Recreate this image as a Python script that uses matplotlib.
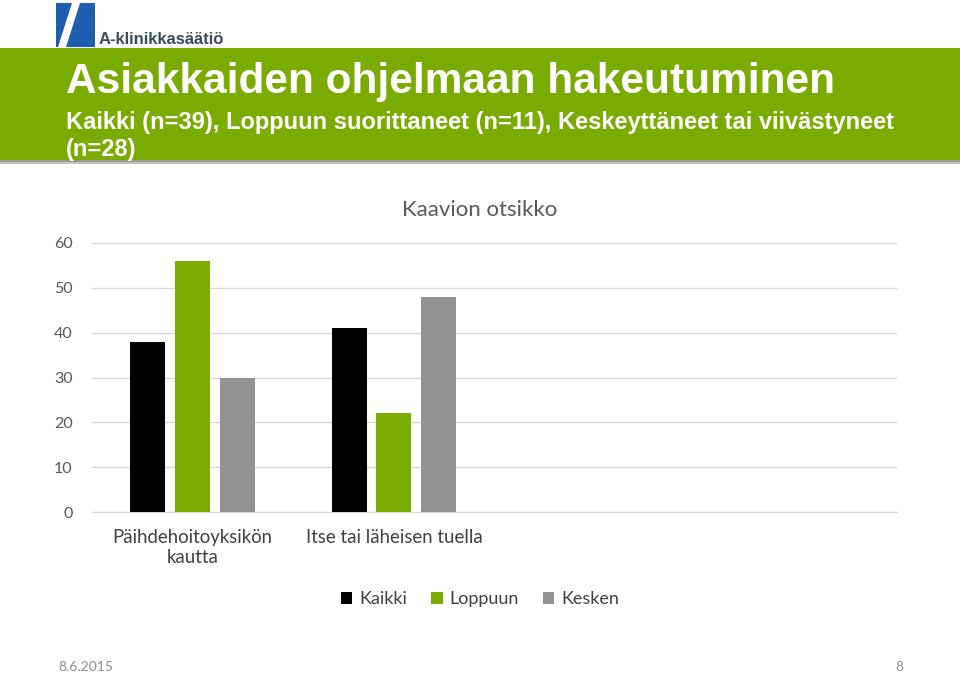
import numpy as np
import matplotlib.pyplot as plt
from matplotlib.patches import Rectangle, Polygon

# data
categories = ['Päihdehoitoyksikön\nkautta', 'Itse tai läheisen tuella']
series = ['Kaikki', 'Loppuun', 'Kesken']
values = {
    'Kaikki': [38, 41],
    'Loppuun': [56, 22],
    'Kesken': [30, 48],
}
colors = {'Kaikki': '#000000', 'Loppuun': '#7aab00', 'Kesken': '#929292'}
yticks = [0, 10, 20, 30, 40, 50, 60]

W, H = 960, 674
fig = plt.figure(figsize=(W / 100, H / 100), dpi=100)

def fx(px):
    return px / W

def fy(py):
    return 1 - py / H

# logo (rough)
fig.patches.append(Polygon([[fx(56), fy(3)], [fx(95), fy(3)], [fx(95), fy(47)],
                            [fx(56), fy(47)]], closed=True, facecolor='#1f5fb0',
                           transform=fig.transFigure, zorder=1))
fig.patches.append(Polygon([[fx(72), fy(3)], [fx(80), fy(3)], [fx(66), fy(47)],
                            [fx(58), fy(47)]], closed=True, facecolor='white',
                           transform=fig.transFigure, zorder=2))
fig.text(fx(99), fy(44), 'A-klinikkasäätiö', color='#3d4a5c', fontsize=12,
         fontweight='bold', family='Liberation Sans', va='baseline')

# green title bar with shadow
fig.patches.append(Rectangle((0, fy(164)), 1, fy(160) - fy(164), facecolor='#c0c0c0',
                             transform=fig.transFigure, zorder=0))
fig.patches.append(Rectangle((0, fy(162)), 1, fy(160) - fy(162), facecolor='#9a9a9a',
                             transform=fig.transFigure, zorder=0))
fig.patches.append(Rectangle((0, fy(160)), 1, fy(48) - fy(160), facecolor='#7aab00',
                             transform=fig.transFigure, zorder=1))
fig.text(fx(66), fy(93), 'Asiakkaiden ohjelmaan hakeutuminen', color='white',
         fontsize=30.5, fontweight='bold', family='Liberation Sans', va='baseline')
fig.text(fx(66), fy(129), 'Kaikki (n=39), Loppuun suorittaneet (n=11), Keskeyttäneet tai viivästyneet',
         color='white', fontsize=17, fontweight='bold', family='Liberation Sans', va='baseline')
fig.text(fx(66), fy(156), '(n=28)', color='white', fontsize=17, fontweight='bold',
         family='Liberation Sans', va='baseline')

# chart
ax = fig.add_axes([fx(92), fy(512), fx(897) - fx(92), fy(243) - fy(512)])
x = np.arange(len(categories))
bw = 0.174
step = 0.222
for i, s in enumerate(series):
    ax.bar(x + (i - 1) * step, values[s], width=bw, color=colors[s], label=s, zorder=3)

ax.set_xlim(-0.5, 3.5)
ax.set_ylim(0, 60)
ax.set_yticks(yticks)
ax.yaxis.grid(True, color='#d9d9d9', linewidth=1, zorder=0)
for sp in ['top', 'right', 'left']:
    ax.spines[sp].set_visible(False)
ax.spines['bottom'].set_color('#d9d9d9')
ax.tick_params(axis='both', length=0, colors='#595959', labelsize=11.5)
ax.tick_params(axis='y', pad=14)
ax.set_xticks(x)
ax.set_xticklabels(categories, fontsize=13.4, color='#404040', linespacing=1.25)
ax.tick_params(axis='x', pad=12)
for lab in ax.get_xticklabels() + ax.get_yticklabels():
    lab.set_family('Lato')

fig.text(0.5, fy(210), 'Kaavion otsikko', ha='center', va='center', fontsize=16,
         color='#595959', family='Lato')

handles, labels = ax.get_legend_handles_labels()
fig.legend(handles, labels, loc='center', bbox_to_anchor=(0.5, fy(599)), ncol=3,
           frameon=False, prop={'family': 'Lato', 'size': 13}, labelcolor='#404040',
           handlelength=0.65, handleheight=0.65, handletextpad=0.4, columnspacing=1.3)

# footer
fig.text(fx(58), fy(667), '8.6.2015', fontsize=10, color='#8c8c8c', family='Lato', va='center')
fig.text(fx(903), fy(667), '8', fontsize=10, color='#8c8c8c', family='Lato', va='center', ha='right')

fig.savefig('out.png', dpi=100)
